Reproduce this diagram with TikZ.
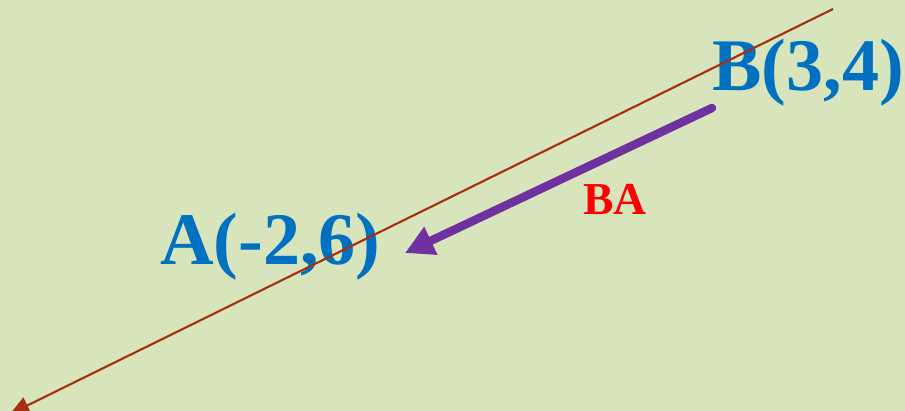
\documentclass[tikz,border=0pt]{standalone}
\usepackage{fontspec}
\setmainfont{Liberation Serif}
\usetikzlibrary{arrows.meta}

\definecolor{bgcolor}{RGB}{216,228,188}
\definecolor{linecolor}{RGB}{165,48,15}
\definecolor{vecblue}{RGB}{0,112,192}
\definecolor{vecpurple}{RGB}{112,48,160}

\tikzset{
    pointlabel/.style={text=vecblue, inner sep=0pt, anchor=base west,
        font=\bfseries\fontsize{42.2}{45}\selectfont},
    veclabel/.style={text=red, inner sep=0pt, anchor=base west,
        font=\bfseries\fontsize{26}{28}\selectfont}
}

\begin{document}
\begin{tikzpicture}[
        % 以像素为单位，y 轴向下
        x={(0.02cm, 0cm)},
        y={(0cm, -0.02cm)}
    ]
    % --- 背景 ---
    \fill[bgcolor] (0,0) rectangle (905,411);
    \useasboundingbox (0,0) rectangle (905,411);
    \clip (0,0) rectangle (905,411);

    % --- 标注点 ---
    \node[pointlabel] (labB) at (712,91) {B(3,4)};
    \node[pointlabel] (labA) at (160,265) {A(-2,6)};
    \node[veclabel] (labBA) at (583,215) {BA};

    % --- 向量 BA ---
    \coordinate (B) at (712,108);
    \coordinate (A) at (405,253);
    \draw[vecpurple, line width=4.8pt, line cap=round,
        -{Triangle[length=16.3pt, width=16.5pt]}] (B) -- (A);

    % --- 直线（画在文字上方） ---
    \coordinate (L1) at (833,9);
    \coordinate (L2) at (10,414);
    \draw[linecolor, line width=1.2pt,
        -{Triangle[length=11pt, width=10pt]}] (L1) -- (L2);

\end{tikzpicture}
\end{document}
